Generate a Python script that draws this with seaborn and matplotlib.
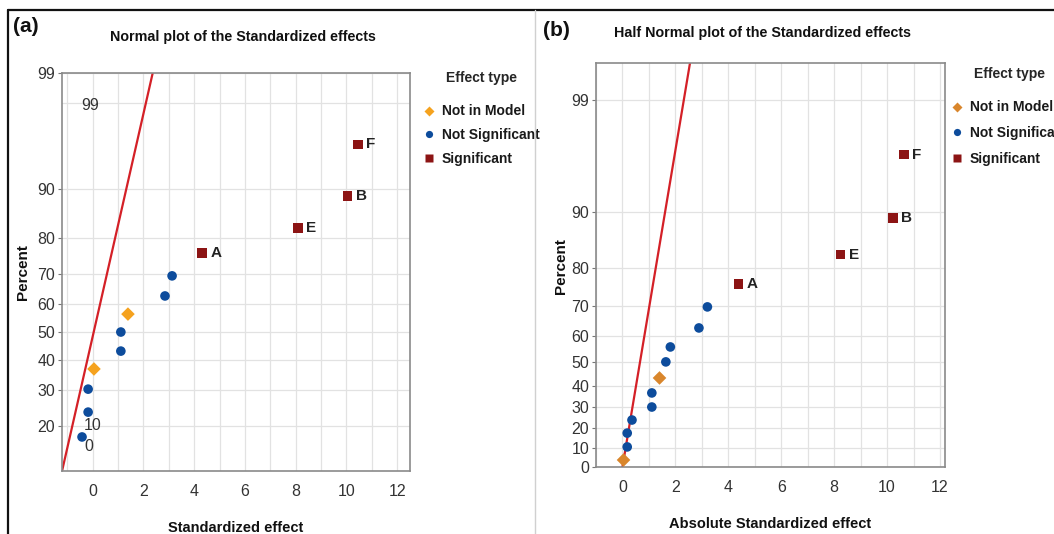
import math
import numpy as np
import pandas as pd
import seaborn as sns
import matplotlib.pyplot as plt
from matplotlib.lines import Line2D

# values
types = ['Not in Model', 'Not Significant', 'Significant']

# (a) normal plot
a_notmodel_x = [1.39, 0.05]
a_notmodel_y = [56.4, 37.0]
a_notsig_x = [3.13, 2.85, 1.11, 1.11, -0.18, -0.18, -0.42]
a_notsig_y = [69.3, 62.7, 50.0, 43.2, 30.4, 23.6, 17.3]
a_sig_x = [4.32, 8.09, 10.04, 10.46]
a_sig_y = [76.1, 82.5, 88.9, 95.4]
a_sig_names = ['A', 'E', 'B', 'F']
a_line_mu, a_line_sigma = 0.04, 1.0

# (b) half normal plot
b_notmodel_x = [1.40, 0.04]
b_notmodel_y = [43.4, 3.6]
b_notsig_x = [3.21, 2.89, 1.81, 1.64, 1.11, 1.11, 0.36, 0.18, 0.18]
b_notsig_y = [69.8, 63.0, 56.1, 50.2, 36.7, 30.1, 23.8, 17.3, 10.3]
b_sig_x = [4.39, 8.24, 10.23, 10.64]
b_sig_y = [76.2, 82.9, 89.2, 95.6]
b_sig_names = ['A', 'E', 'B', 'F']
b_line_sigma = 0.98

a_yticks = [20, 30, 40, 50, 60, 70, 80, 90, 99]
a_yticklabels = ['20', '30', '40', '50', '60', '70', '80', '90', '99']
b_yticks = [0, 10, 20, 30, 40, 50, 60, 70, 80, 90, 98.2]
b_yticklabels = ['0', '10', '20', '30', '40', '50', '60', '70', '80', '90', '99']
xticks = [0, 2, 4, 6, 8, 10, 12]


def make_df(nm_x, nm_y, ns_x, ns_y, s_x, s_y):
    return pd.DataFrame({
        'effect': nm_x + ns_x + s_x,
        'percent': nm_y + ns_y + s_y,
        'type': [types[0]] * len(nm_x) + [types[1]] * len(ns_x) + [types[2]] * len(s_x),
    })


df_a = make_df(a_notmodel_x, a_notmodel_y, a_notsig_x, a_notsig_y, a_sig_x, a_sig_y)
df_b = make_df(b_notmodel_x, b_notmodel_y, b_notsig_x, b_notsig_y, b_sig_x, b_sig_y)

# normal probability helpers (no scipy)
_erf = np.vectorize(math.erf, otypes=[float])


def norm_cdf(z):
    z = np.asarray(z, dtype=float)
    return 0.5 * (1 + _erf(z / math.sqrt(2)))


def norm_ppf(p):
    p = np.clip(np.asarray(p, dtype=float), 1e-12, 1 - 1e-12)
    lo = np.full(p.shape, -9.0)
    hi = np.full(p.shape, 9.0)
    for _ in range(60):
        mid = (lo + hi) / 2
        below = norm_cdf(mid) < p
        lo = np.where(below, mid, lo)
        hi = np.where(below, hi, mid)
    return (lo + hi) / 2


def fwd_normal(p):
    return norm_ppf(np.asarray(p, dtype=float) / 100)


def inv_normal(z):
    return 100 * norm_cdf(z)


def fwd_half(p):
    return norm_ppf(0.5 + np.clip(np.asarray(p, dtype=float), 0, 100) / 200)


def inv_half(z):
    return 200 * (norm_cdf(z) - 0.5)


sns.set_theme(style='whitegrid')
plt.rcParams['font.family'] = ['Liberation Sans', 'DejaVu Sans']

palette_a = {'Not in Model': '#f5a21e', 'Not Significant': '#0d4c9c', 'Significant': '#8c1414'}
palette_b = {'Not in Model': '#d9862c', 'Not Significant': '#0d4c9c', 'Significant': '#8c1414'}
markers = {'Not in Model': 'D', 'Not Significant': 'o', 'Significant': 's'}

fig = plt.figure(figsize=(10.54, 5.34), dpi=100)
ax_a = fig.add_axes([62 / 1054, 1 - 471 / 534, 348 / 1054, 398 / 534])
ax_b = fig.add_axes([596 / 1054, 1 - 467 / 534, 349 / 1054, 404 / 534])


def draw_panel(ax, df, palette, fwd, inv, sig_x, sig_y, names, line_p, line_eff,
               xlim, ylim, yticks, yticklabels, xlabel, ylabel_xy, legend_anchor, spacing):
    ax.set_yscale('function', functions=(fwd, inv))
    ax.plot(line_eff, line_p, color='#d42027', lw=1.6, zorder=2)
    sns.scatterplot(data=df, x='effect', y='percent', hue='type', style='type',
                    hue_order=types, style_order=types, palette=palette, markers=markers,
                    s=48, edgecolor='none', ax=ax, zorder=3)
    for x, y, n in zip(sig_x, sig_y, names):
        ax.annotate(n, (x, y), xytext=(6, 0), textcoords='offset points',
                    va='center', ha='left', fontsize=11, fontweight='bold', color='#222222')
    ax.set_xlim(*xlim)
    ax.set_ylim(*ylim)
    ax.set_xticks(xticks)
    ax.set_xticks(np.arange(-1, 13), minor=True)
    ax.set_yticks(yticks)
    ax.set_yticklabels(yticklabels)
    ax.tick_params(axis='both', labelsize=11.5, colors='#333333')
    ax.tick_params(axis='y', length=3, width=0.8, color='#777777', left=True, pad=2)
    ax.tick_params(axis='x', length=0, pad=9)
    ax.tick_params(which='minor', length=0)
    ax.grid(True, which='both', color='#e2e2e2', lw=0.9)
    for sp in ax.spines.values():
        sp.set_color('#8a8a8a')
        sp.set_linewidth(1.2)
    ax.set_xlabel(xlabel, fontsize=10.5, fontweight='bold', color='#111111', labelpad=16)
    ax.set_ylabel('Percent', fontsize=11, fontweight='bold', color='#111111')
    ax.yaxis.set_label_coords(*ylabel_xy)
    sns.move_legend(ax, 'upper left', bbox_to_anchor=legend_anchor, title='Effect type',
                    frameon=False, fontsize=10, title_fontsize=10, labelspacing=spacing,
                    handletextpad=0.6, handlelength=0.7, borderaxespad=0, borderpad=0,
                    markerscale=0.75)
    leg = ax.get_legend()
    leg.get_title().set_fontweight('bold')
    leg._legend_box.align = 'center'
    leg._legend_box.sep = 14
    for t in leg.get_texts():
        t.set_fontweight('bold')
        t.set_color('#1a1a1a')
    return ax


# panel (a)
a_line_p = np.array([1.0, 99.9])
a_line_eff = a_line_mu + a_line_sigma * fwd_normal(a_line_p)
draw_panel(ax_a, df_a, palette_a, fwd_normal, inv_normal, a_sig_x, a_sig_y, a_sig_names,
           a_line_p, a_line_eff, (-1.21, 12.51), (10.6, 99.0), a_yticks, a_yticklabels,
           'Standardized effect', (-0.092, 0.5), (1.04, 1.005), 0.7)
ax_a.set_yticks([98], minor=True)
ax_a.grid(True, which='minor', axis='y', color='#e2e2e2', lw=0.9)
# stray labels inside panel (a)
ax_a.text(-0.1, 97.9, '99', fontsize=11.5, color='#333333', ha='center', va='center')
ax_a.text(0.0, 20, '10', fontsize=11.5, color='#333333', ha='center', va='center')
ax_a.text(-0.15, 15.2, '0', fontsize=11.5, color='#333333', ha='center', va='center')

# panel (b)
b_line_p = np.array([0.0, 99.95])
b_line_eff = b_line_sigma * fwd_half(b_line_p)
draw_panel(ax_b, df_b, palette_b, fwd_half, inv_half, b_sig_x, b_sig_y, b_sig_names,
           b_line_p, b_line_eff, (-0.70, 12.19), (0.0, 99.08), b_yticks, b_yticklabels,
           'Absolute Standardized effect', (-0.080, 0.4975), (1.02, 0.99), 0.85)

# titles and panel letters
fig.text(243 / 1054, 1 - 37 / 534, 'Normal plot of the Standardized effects',
         fontsize=10.3, fontweight='bold', ha='center', va='center', color='#111111')
fig.text(763 / 1054, 1 - 33 / 534, 'Half Normal plot of the Standardized effects',
         fontsize=10.3, fontweight='bold', ha='center', va='center', color='#111111')
fig.text(26 / 1054, 1 - 27 / 534, '(a)', fontsize=15, fontweight='bold',
         ha='center', va='center', color='#111111')
fig.text(556 / 1054, 1 - 30 / 534, '(b)', fontsize=15, fontweight='bold',
         ha='center', va='center', color='#111111')

# frame lines of the composite
fig.add_artist(Line2D([8 / 1054, 1], [1 - 10 / 534, 1 - 10 / 534], color='#111111', lw=1.6))
fig.add_artist(Line2D([8 / 1054, 8 / 1054], [0, 1 - 10 / 534], color='#111111', lw=1.6))
fig.add_artist(Line2D([535 / 1054, 535 / 1054], [0, 1 - 10 / 534], color='#d0d0d0', lw=1.0))

fig.savefig('out.png', dpi=100)
